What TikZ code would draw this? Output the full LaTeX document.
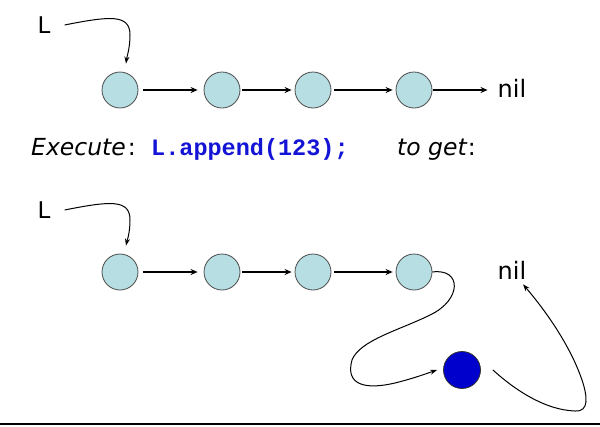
\documentclass[tikz,border=0pt]{standalone}
\usepackage{fontspec}
\setmainfont{DejaVu Sans}
\newfontfamily\codefont{Liberation Mono}
\usetikzlibrary{arrows.meta}
\definecolor{cellfill}{RGB}{183,222,226}
\definecolor{newfill}{RGB}{0,0,204}
\definecolor{codeblue}{RGB}{20,20,215}
\tikzset{
  cell/.style={circle,draw=black!70,line width=0.8pt,fill=cellfill,minimum size=36pt,inner sep=0pt},
  newcell/.style={circle,draw=black!80,line width=0.8pt,fill=newfill,minimum size=37pt,inner sep=0pt},
  lbl/.style={inner sep=0pt,font=\fontsize{23}{27}\selectfont},
  nillbl/.style={inner sep=0pt,font=\fontsize{24}{28}\selectfont},
  link/.style={line width=1.5pt,-{Stealth[length=7pt,width=6pt]}},
  curve/.style={line width=1pt,-{Stealth[length=7pt,width=5pt]}},
  txt/.style={inner sep=0pt,anchor=base west,font=\fontsize{23.5}{27}\selectfont\itshape}
}
\begin{document}
\begin{tikzpicture}[x=1pt,y=-1pt]
\useasboundingbox (0,0) rectangle (600,426);
% top row
\node[lbl] (L1) at (44,25) {L};
\node[cell] (a1) at (120,90) {};
\node[cell] (a2) at (222,90) {};
\node[cell] (a3) at (313,90) {};
\node[cell] (a4) at (414,90) {};
\node[nillbl] (nil1) at (512,88) {nil};
\draw[curve] ([xshift=14pt]L1.east) .. controls (110,16) and (130,14) .. (130,35)
  .. controls (130,48) and (127,56) .. ([xshift=6pt,yshift=8pt]a1.north);
\draw[link] ([xshift=5pt]a1.east) -- ([xshift=-6pt]a2.west);
\draw[link] ([xshift=2pt]a2.east) -- ([xshift=-3pt]a3.west);
\draw[link] ([xshift=3pt]a3.east) -- ([xshift=-3pt]a4.west);
\draw[link] ([xshift=1pt]a4.east) -- ([xshift=-10pt]a4.east -| nil1.west);
% text line
\node[txt] (ex) at (31,155) {Execute\hspace{2pt}\upshape:};
\node[inner sep=0pt,anchor=base west,font=\fontsize{23.5}{27}\selectfont\codefont\bfseries,text=codeblue] (code) at (151,155) {L.append(123);};
\node[txt] (get) at (397,155) {to get\hspace{1pt}\upshape:};
% bottom row
\node[lbl] (L2) at (44,210) {L};
\node[cell] (b1) at (120,272) {};
\node[cell] (b2) at (222,272) {};
\node[cell] (b3) at (313,272) {};
\node[cell] (b4) at (414,272) {};
\node[nillbl] (nil2) at (512,270) {nil};
\node[newcell] (nw) at (462,370) {};
\draw[curve] ([xshift=14pt]L2.east) .. controls (110,201) and (130,199) .. (130,220)
  .. controls (130,233) and (127,241) .. ([xshift=6pt,yshift=8pt]b1.north);
\draw[link] ([xshift=5pt]b1.east) -- ([xshift=-6pt]b2.west);
\draw[link] ([xshift=2pt]b2.east) -- ([xshift=-3pt]b3.west);
\draw[link] ([xshift=3pt]b3.east) -- ([xshift=-3pt]b4.west);
\draw[curve] (b4.east) .. controls (462,268) and (462,300) .. (430,315)
  .. controls (400,330) and (360,340) .. (352,360)
  .. controls (345,385) and (365,390) .. (395,383)
  .. controls (415,378) and (428,373) .. ([xshift=-6pt]nw.west);
\draw[curve] ([xshift=12pt]nw.east) .. controls (515,390) and (545,410) .. (575,411)
  .. controls (590,412) and (587,395) .. (582,380)
  .. controls (570,345) and (545,310) .. ([xshift=11pt,yshift=-5pt]nil2.south);
% bottom rule
\draw[line width=1.5pt] (0,424) -- (600,424);
\end{tikzpicture}
\end{document}
